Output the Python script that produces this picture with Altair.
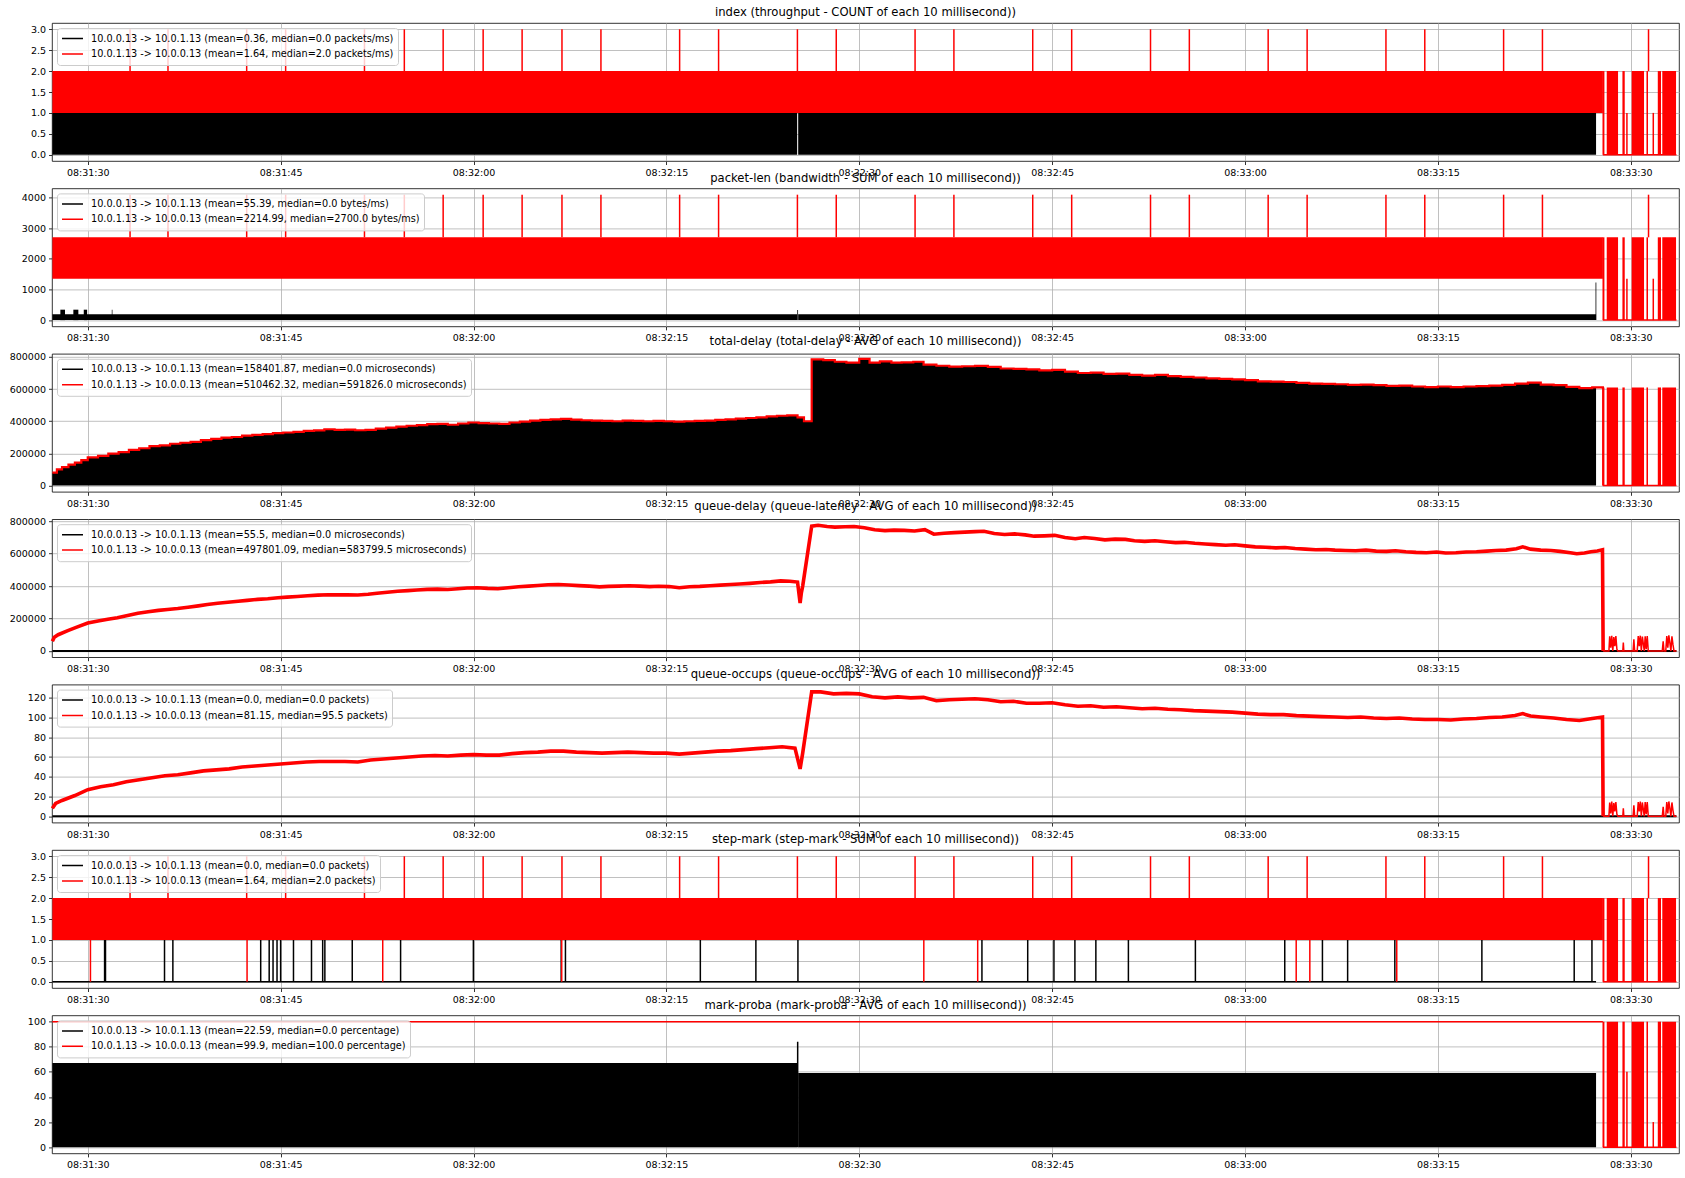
import altair as alt
import pandas as pd

# ---------------- axis / layout constants (seconds after 08:31:00) ----------------
X_DOMAIN = [27.22, 153.75]
X_TICKS = [30, 45, 60, 75, 90, 105, 120, 135, 150]
LABEL_EXPR = ("'08:' + (31 + floor(datum.value / 60)) + ':' + "
              "((datum.value % 60) < 10 ? '0' : '') + (datum.value % 60)")
W, H = 1627, 138
BLACK, RED = "#000000", "#ff0000"
FONT = "DejaVu Sans"

TITLES = [
    "index (throughput - COUNT of each 10 millisecond))",
    "packet-len (bandwidth - SUM of each 10 millisecond))",
    "total-delay (total-delay - AVG of each 10 millisecond))",
    "queue-delay (queue-latency - AVG of each 10 millisecond))",
    "queue-occups (queue-occups - AVG of each 10 millisecond))",
    "step-mark (step-mark - SUM of each 10 millisecond))",
    "mark-proba (mark-proba - AVG of each 10 millisecond))",
]
LEGENDS = [
    ["10.0.0.13 -> 10.0.1.13 (mean=0.36, median=0.0 packets/ms)",
     "10.0.1.13 -> 10.0.0.13 (mean=1.64, median=2.0 packets/ms)"],
    ["10.0.0.13 -> 10.0.1.13 (mean=55.39, median=0.0 bytes/ms)",
     "10.0.1.13 -> 10.0.0.13 (mean=2214.99, median=2700.0 bytes/ms)"],
    ["10.0.0.13 -> 10.0.1.13 (mean=158401.87, median=0.0 microseconds)",
     "10.0.1.13 -> 10.0.0.13 (mean=510462.32, median=591826.0 microseconds)"],
    ["10.0.0.13 -> 10.0.1.13 (mean=55.5, median=0.0 microseconds)",
     "10.0.1.13 -> 10.0.0.13 (mean=497801.09, median=583799.5 microseconds)"],
    ["10.0.0.13 -> 10.0.1.13 (mean=0.0, median=0.0 packets)",
     "10.0.1.13 -> 10.0.0.13 (mean=81.15, median=95.5 packets)"],
    ["10.0.0.13 -> 10.0.1.13 (mean=0.0, median=0.0 packets)",
     "10.0.1.13 -> 10.0.0.13 (mean=1.64, median=2.0 packets)"],
    ["10.0.0.13 -> 10.0.1.13 (mean=22.59, median=0.0 percentage)",
     "10.0.1.13 -> 10.0.0.13 (mean=99.9, median=100.0 percentage)"],
]
Y_DOMAINS = [[-0.15, 3.15], [-205, 4295], [-39000, 819400], [-38700, 812700],
             [-6.4, 133.4], [-0.15, 3.15], [-5, 105]]
Y_TICKS = [[0, 0.5, 1.0, 1.5, 2.0, 2.5, 3.0], [0, 1000, 2000, 3000, 4000],
           [0, 200000, 400000, 600000, 800000], [0, 200000, 400000, 600000, 800000],
           [0, 20, 40, 60, 80, 100, 120], [0, 0.5, 1.0, 1.5, 2.0, 2.5, 3.0],
           [0, 20, 40, 60, 80, 100]]
Y_FORMATS = [".1f", "d", "d", "d", "d", ".1f", "d"]

# ---------------- data ----------------
T_START, BLACK_END, RED_END = 27.25, 147.30, 147.83
GAP_START, GAP_END = 85.17, 85.25
TAIL_END = 153.55

# periodic step-mark spikes (to 3 packets / 4090 bytes)
SPIKE_T = [33.29, 36.24, 42.36, 45.39, 51.52, 54.62, 57.64, 60.75, 63.78, 66.88,
           69.91, 76.03, 79.06, 85.19, 88.21, 94.34, 97.36, 103.49, 106.52, 112.65,
           115.67, 121.80, 124.83, 130.96, 133.98, 140.11, 143.13, 151.38]

# dense red bursts after the flow ends
TAIL_T0 = [147.80, 148.13, 149.35, 150.07, 151.22, 152.10, 152.45]
TAIL_T1 = [147.95, 149.01, 149.53, 151.03, 151.34, 152.35, 153.52]
TAIL_SINGLE_T = [149.70, 151.75]

# step-mark: black marks (0 -> 1) and red drops (1 -> 0)
P6_BLACK_T = [31.31, 31.38, 35.97, 36.62, 43.45, 44.11, 44.41, 44.72, 45.00, 46.00,
              47.40, 48.27, 48.44, 50.57, 54.33, 59.99, 66.82, 67.15, 77.64, 81.96,
              85.23, 99.54, 103.10, 105.14, 106.77, 108.40, 110.93, 116.14, 123.09,
              126.02, 127.98, 131.65, 138.42, 145.60, 146.98]
P6_RED_DROP_T = [30.21, 42.39, 52.94, 66.86, 95.02, 99.21, 123.98, 125.04, 131.80]

# packet-len black spikes
P2_BLACK_T0 = [27.87, 28.88, 29.69, 31.87, 85.18, 147.26]
P2_BLACK_T1 = [28.23, 29.27, 29.95, 31.92, 85.24, 147.32]
P2_BLACK_HI = [340, 340, 340, 340, 330, 1230]

# total-delay (step values, microseconds)
P3_T = [27.25, 27.6, 28.0, 28.5, 29.0, 29.5, 30.0, 30.8, 31.6, 32.4, 33.2, 34.0, 34.8,
        35.6, 36.4, 37.2, 38.0, 38.8, 39.6, 40.4, 41.2, 42.0, 42.8, 43.6, 44.4, 45.2,
        46.0, 46.8, 47.6, 48.4, 49.2, 50.0, 50.8, 51.6, 52.4, 53.2, 54.0, 54.8, 55.6,
        56.4, 57.2, 58.0, 58.8, 59.6, 60.4, 61.2, 62.0, 62.8, 63.6, 64.4, 65.2, 66.0,
        66.8, 67.6, 68.4, 69.2, 70.0, 70.8, 71.6, 72.4, 73.2, 74.0, 74.8, 75.6, 76.4,
        77.2, 78.0, 78.8, 79.6, 80.4, 81.2, 82.0, 82.8, 83.6, 84.4, 85.2, 85.7, 86.3,
        87.2, 88.1, 89.0, 90.0, 90.8, 91.6, 92.5, 93.3, 94.2, 95.0, 96.0, 97.0, 98.0,
        99.0, 100.0, 101.0, 102.0, 103.0, 104.0, 105.0, 106.0, 107.0, 108.0, 109.0,
        110.0, 111.0, 112.0, 113.0, 114.0, 115.0, 116.0, 117.0, 118.0, 119.0, 120.0,
        121.0, 122.0, 123.0, 124.0, 125.0, 126.0, 127.0, 128.0, 129.0, 130.0, 131.0,
        132.0, 133.0, 134.0, 135.0, 136.0, 137.0, 138.0, 139.0, 140.0, 141.0, 142.0,
        143.0, 144.0, 145.0, 146.0, 147.0, 147.83]
P3_V = [80000, 100000, 115000, 130000, 143000, 158000, 175000, 185000, 198000, 208000,
        222000, 232000, 245000, 250000, 260000, 266000, 272000, 282000, 290000, 298000,
        302000, 310000, 315000, 320000, 326000, 330000, 334000, 340000, 343000, 350000,
        346000, 348000, 344000, 346000, 354000, 360000, 366000, 372000, 376000, 382000,
        384000, 378000, 386000, 392000, 388000, 386000, 384000, 392000, 398000, 404000,
        408000, 412000, 414000, 410000, 406000, 404000, 402000, 400000, 404000, 402000,
        400000, 402000, 400000, 398000, 400000, 402000, 404000, 408000, 412000, 416000,
        420000, 424000, 430000, 434000, 436000, 424000, 400000, 785000, 780000, 770000,
        765000, 788000, 765000, 772000, 765000, 766000, 770000, 752000, 745000, 740000,
        742000, 744000, 738000, 728000, 726000, 722000, 716000, 720000, 708000, 700000,
        702000, 694000, 696000, 688000, 684000, 688000, 680000, 676000, 672000, 666000,
        664000, 660000, 656000, 648000, 646000, 644000, 638000, 634000, 632000, 630000,
        626000, 628000, 624000, 620000, 622000, 616000, 612000, 616000, 612000, 616000,
        618000, 622000, 626000, 634000, 640000, 628000, 624000, 614000, 606000, 610000,
        600000]

# queue-delay (microseconds)
P4_T = [27.25, 27.4, 27.7, 28.45, 29.2, 30.0, 30.8, 31.56, 32.3, 33.1, 33.9, 34.7, 35.5,
        36.2, 37.0, 37.8, 38.6, 39.3, 40.1, 40.9, 41.7, 42.4, 43.2, 44.0, 44.8, 45.5,
        46.3, 47.1, 47.9, 48.7, 49.4, 50.2, 51.0, 51.8, 52.5, 53.3, 54.1, 54.9, 55.6,
        56.4, 57.2, 58.0, 58.8, 59.5, 60.3, 61.1, 61.9, 62.7, 63.5, 64.3, 65.0, 65.8,
        66.6, 67.4, 68.2, 69.0, 69.8, 70.5, 71.3, 72.1, 72.9, 73.7, 74.4, 75.2, 76.0,
        76.8, 77.6, 78.4, 79.2, 80.0, 80.7, 81.5, 82.3, 83.1, 83.9, 84.6, 85.2, 85.4,
        85.5, 85.6, 86.3, 86.8, 87.5, 88.1, 88.9, 89.6, 90.4, 91.2, 92.0, 92.7, 93.5,
        94.3, 95.1, 95.8, 96.6, 97.4, 98.2, 99.0, 99.7, 100.5, 101.3, 102.1, 102.9,
        103.6, 104.4, 105.2, 106.0, 106.8, 107.5, 108.3, 109.1, 109.9, 110.7, 111.4,
        112.2, 113.0, 113.8, 114.6, 115.3, 116.1, 116.9, 117.7, 118.5, 119.2, 120.0,
        120.8, 121.6, 122.4, 123.1, 123.9, 124.7, 125.5, 126.3, 127.0, 127.8, 128.6,
        129.4, 130.2, 131.0, 131.7, 132.5, 133.3, 134.1, 134.9, 135.6, 136.4, 137.2,
        138.0, 138.8, 139.5, 140.3, 141.1, 141.6, 142.2, 143.0, 143.8, 144.5, 145.3,
        145.8, 146.4, 146.9, 147.4, 147.8, 147.85]
P4_V = [60000, 85000, 100000, 125000, 148000, 172000, 185000, 195000, 205000, 218000,
        232000, 242000, 250000, 256000, 262000, 270000, 278000, 286000, 294000, 300000,
        306000, 312000, 318000, 322000, 328000, 332000, 336000, 340000, 344000, 347000,
        346000, 346000, 345000, 350000, 356000, 362000, 368000, 372000, 376000, 380000,
        381000, 379000, 384000, 388000, 390000, 386000, 384000, 390000, 396000, 400000,
        404000, 408000, 410000, 407000, 403000, 400000, 395000, 398000, 400000, 402000,
        400000, 397000, 399000, 397000, 390000, 396000, 398000, 402000, 406000, 410000,
        413000, 417000, 422000, 426000, 432000, 430000, 425000, 295000, 360000, 400000,
        770000, 775000, 768000, 764000, 766000, 768000, 760000, 748000, 742000, 745000,
        744000, 740000, 748000, 720000, 726000, 730000, 733000, 736000, 738000, 725000,
        718000, 722000, 716000, 708000, 710000, 713000, 700000, 692000, 700000, 694000,
        685000, 690000, 688000, 680000, 676000, 680000, 674000, 668000, 670000, 664000,
        660000, 656000, 652000, 655000, 648000, 642000, 640000, 636000, 638000, 632000,
        628000, 624000, 626000, 622000, 620000, 618000, 622000, 616000, 614000, 618000,
        612000, 608000, 606000, 610000, 604000, 606000, 610000, 612000, 616000, 620000,
        622000, 630000, 642000, 628000, 622000, 620000, 614000, 606000, 600000, 604000,
        612000, 616000, 624000, 0]
P4_TAIL_T = [147.85, 148.30, 148.36, 148.44, 148.52, 148.60, 148.68, 148.76, 148.84,
             148.92, 149.00, 149.38, 149.42, 149.46, 150.18, 150.24, 150.30, 150.50,
             150.58, 150.66, 150.74, 150.82, 150.90, 151.05, 151.12, 151.20, 151.28,
             151.36, 151.50, 152.45, 152.52, 152.58, 152.72, 152.80, 152.88, 152.96,
             153.04, 153.12, 153.20, 153.28, 153.36, 153.55]
P4_TAIL_V = [0, 0, 90000, 20000, 94000, 0, 86000, 30000, 92000, 10000, 0, 0, 52000, 0,
             0, 72000, 0, 0, 92000, 30000, 94000, 0, 88000, 0, 90000, 10000, 92000, 0,
             0, 0, 60000, 0, 0, 92000, 20000, 96000, 50000, 0, 90000, 40000, 0, 0]

# queue-occupancy (packets)
P5_T = [27.25, 27.5, 28.0, 29.0, 30.0, 31.0, 32.0, 33.0, 34.0, 35.0, 36.0, 37.0, 38.0,
        39.0, 40.0, 41.0, 42.0, 43.0, 44.0, 45.0, 46.0, 47.0, 48.0, 49.0, 50.0, 51.0,
        52.0, 53.0, 54.0, 55.0, 56.0, 57.0, 58.0, 59.0, 60.0, 61.0, 62.0, 63.0, 64.0,
        65.0, 66.0, 67.0, 68.0, 69.0, 70.0, 71.0, 72.0, 73.0, 74.0, 75.0, 76.0, 77.0,
        78.0, 79.0, 80.0, 81.0, 82.0, 83.0, 84.0, 85.0, 85.4, 85.6, 86.3, 87.0, 88.0,
        89.0, 90.0, 91.0, 92.0, 93.0, 94.0, 95.0, 96.0, 97.0, 98.0, 99.0, 100.0, 101.0,
        102.0, 103.0, 104.0, 105.0, 106.0, 107.0, 108.0, 109.0, 110.0, 111.0, 112.0,
        113.0, 114.0, 115.0, 116.0, 117.0, 118.0, 119.0, 120.0, 121.0, 122.0, 123.0,
        124.0, 125.0, 126.0, 127.0, 128.0, 129.0, 130.0, 131.0, 132.0, 133.0, 134.0,
        135.0, 136.0, 137.0, 138.0, 139.0, 140.0, 141.0, 141.6, 142.2, 143.0, 144.0,
        145.0, 146.0, 147.0, 147.8, 147.85]
P5_V = [8, 13, 16, 21, 27, 30, 32, 35, 37, 39, 41, 42, 44, 46, 47, 48, 50, 51, 52, 53,
        54, 55, 55.5, 55.5, 55.5, 55, 57, 58, 59, 60, 61, 61.5, 61, 62, 62.5, 62, 62,
        63.5, 64.5, 65, 66, 66, 65, 64.5, 64, 64.5, 65, 64.5, 64, 64, 63, 64, 65, 66,
        66.5, 67.5, 68.5, 69.5, 70.5, 69, 48, 64, 126, 126, 124, 124.5, 124, 121, 120,
        121, 120, 120.5, 117, 118, 118.5, 119, 118, 116, 116.5, 114.5, 114.5, 115, 113,
        111.5, 112, 110.5, 111, 110, 109, 109.5, 108.5, 108, 107, 106.5, 106, 105.5,
        104.5, 103.5, 103, 103, 102, 101.5, 101, 100.5, 100, 100.5, 99.5, 99, 99.5,
        98.5, 98, 98, 97.5, 98.5, 99, 100, 100.5, 102, 104, 101.5, 100.5, 99.5, 98, 97,
        99, 100.5, 0]
P5_TAIL_V = [0, 0, 14, 3, 15, 0, 13.5, 5, 14.5, 2, 0, 0, 8, 0, 0, 11, 0, 0, 14.5, 5,
             15, 0, 14, 0, 14.5, 2, 14.5, 0, 0, 0, 9.5, 0, 0, 14.5, 3, 15, 8, 0, 14, 6,
             0, 0]

# mark-proba (percentage)
P7_BLACK_T0 = [T_START, GAP_END]
P7_BLACK_T1 = [GAP_START, BLACK_END]
P7_BLACK_HI = [67, 59]
P7_BLACK_SPIKE = 84
P7_RED_LEVEL = 100
P7_TAIL_SINGLE_V = [60, 20]


# ---------------- helpers ----------------
def xenc(field):
    return alt.X(f"{field}:Q",
                 scale=alt.Scale(domain=X_DOMAIN, nice=False, zero=False),
                 axis=alt.Axis(values=X_TICKS, labelExpr=LABEL_EXPR, title=None))


def yenc(field, i):
    return alt.Y(f"{field}:Q",
                 scale=alt.Scale(domain=Y_DOMAINS[i], nice=False, zero=False),
                 axis=alt.Axis(values=Y_TICKS[i], format=Y_FORMATS[i], title=None))


def cenc(i):
    return alt.Color("series:N",
                     scale=alt.Scale(domain=LEGENDS[i], range=[BLACK, RED]),
                     legend=alt.Legend(title=None))


def rects(i, t0, t1, lo, hi, color):
    df = pd.DataFrame({"t0": t0, "t1": t1, "lo": lo, "hi": hi})
    return alt.Chart(df).mark_rect(color=color).encode(
        x=xenc("t0"), x2=alt.X2("t1"), y=yenc("lo", i), y2=alt.Y2("hi"))


def rules(i, t, lo, hi, series_idx, width=1.5):
    n = len(t)
    df = pd.DataFrame({"t": t, "lo": lo if isinstance(lo, list) else [lo] * n,
                       "hi": hi if isinstance(hi, list) else [hi] * n,
                       "series": [LEGENDS[i][series_idx]] * n})
    return alt.Chart(df).mark_rule(strokeWidth=width).encode(
        x=xenc("t"), y=yenc("lo", i), y2=alt.Y2("hi"), color=cenc(i))


def hline(i, t0, t1, v, series_idx, width=1.5):
    df = pd.DataFrame({"t0": [t0], "t1": [t1], "v": [v],
                       "series": [LEGENDS[i][series_idx]]})
    return alt.Chart(df).mark_rule(strokeWidth=width).encode(
        x=xenc("t0"), x2=alt.X2("t1"), y=yenc("v", i), color=cenc(i))


def curve(i, t, v, series_idx, width, interp="linear"):
    df = pd.DataFrame({"t": t, "v": v, "series": [LEGENDS[i][series_idx]] * len(t)})
    return alt.Chart(df).mark_line(strokeWidth=width, interpolate=interp).encode(
        x=xenc("t"), y=yenc("v", i), color=cenc(i))


def tail(i, level):
    n = len(TAIL_T0)
    return rects(i, TAIL_T0, TAIL_T1, [0] * n, [level] * n, RED)


def finish(layers, i):
    return alt.layer(*layers).properties(width=W, height=H, title=TITLES[i])


# ---------------- panels ----------------
panels = []

# 1: index
i = 0
panels.append(finish([
    rules(i, SPIKE_T, 2, 3, 1),
    rects(i, [T_START, GAP_END], [GAP_START, BLACK_END], [0, 0], [1, 1], BLACK),
    rects(i, [T_START], [RED_END], [1], [2], RED),
    tail(i, 2),
    rules(i, TAIL_SINGLE_T, 0, 1, 1),
    hline(i, RED_END, TAIL_END, 0, 1),
], i))

# 2: packet-len
i = 1
panels.append(finish([
    rules(i, SPIKE_T, 2700, 4090, 1),
    rects(i, [T_START, GAP_END], [GAP_START, BLACK_END], [0, 0], [190, 190], BLACK),
    rects(i, P2_BLACK_T0, P2_BLACK_T1, [0] * len(P2_BLACK_T0), P2_BLACK_HI, BLACK),
    rects(i, [T_START], [RED_END], [1350], [2700], RED),
    tail(i, 2700),
    rules(i, TAIL_SINGLE_T, 0, 1350, 1),
    hline(i, RED_END, TAIL_END, 0, 1),
], i))

# 3: total-delay
i = 2
p3_black = pd.DataFrame({"t": [t for t in P3_T if t < BLACK_END] + [BLACK_END],
                         "v": [v for t, v in zip(P3_T, P3_V) if t < BLACK_END] + [612000]})
p3_black["zero"] = 0
panels.append(finish([
    rules(i, [RED_END], 0, 600000, 1),
    alt.Chart(p3_black).mark_area(color=BLACK, interpolate="step-after").encode(
        x=xenc("t"), y=yenc("v", i), y2=alt.Y2("zero")),
    curve(i, P3_T, P3_V, 1, 2.2, "step-after"),
    tail(i, 610000),
    hline(i, RED_END, TAIL_END, 0, 1),
], i))

# 4: queue-delay
i = 3
panels.append(finish([
    hline(i, T_START, TAIL_END, 0, 0, 2),
    curve(i, P4_T, P4_V, 1, 3.6),
    curve(i, P4_TAIL_T, P4_TAIL_V, 1, 1.5),
], i))

# 5: queue-occups
i = 4
panels.append(finish([
    hline(i, T_START, TAIL_END, 0, 0, 2),
    curve(i, P5_T, P5_V, 1, 3.6),
    curve(i, P4_TAIL_T, P5_TAIL_V, 1, 1.5),
], i))

# 6: step-mark
i = 5
panels.append(finish([
    hline(i, T_START, BLACK_END, 0, 0, 1.5),
    rules(i, P6_BLACK_T, 0, 1, 0),
    rects(i, [T_START], [RED_END], [1], [2], RED),
    rules(i, SPIKE_T, 2, 3, 1),
    rules(i, P6_RED_DROP_T, 0, 1, 1),
    tail(i, 2),
    hline(i, RED_END, TAIL_END, 0, 1),
], i))

# 7: mark-proba
i = 6
panels.append(finish([
    hline(i, T_START, RED_END, P7_RED_LEVEL, 1, 1.5),
    rects(i, P7_BLACK_T0, P7_BLACK_T1, [0, 0], P7_BLACK_HI, BLACK),
    rules(i, [85.21], 0, P7_BLACK_SPIKE, 0),
    tail(i, P7_RED_LEVEL),
    rules(i, TAIL_SINGLE_T, 0, P7_TAIL_SINGLE_V, 1),
    hline(i, RED_END, TAIL_END, 0, 1),
], i))

chart = alt.vconcat(*panels, spacing=27.4, bounds="flush").resolve_scale(
    color="independent", x="independent", y="independent"
).properties(
    padding={"left": 8, "top": 7, "right": 5, "bottom": 5},
    background="white",
).configure_view(
    stroke="black", strokeWidth=0.8
).configure_axis(
    grid=True, gridColor="#b0b0b0", gridWidth=0.8, domain=False,
    tickColor="black", tickSize=3.5, tickWidth=0.8,
    labelFont=FONT, labelFontSize=9.5, labelColor="black", labelPadding=3
).configure_title(
    font=FONT, fontSize=11.6, fontWeight="normal", anchor="middle", offset=4,
    color="black"
).configure_legend(
    orient="top-left", offset=5, padding=4, fillColor="rgba(255,255,255,0.8)",
    strokeColor="#cccccc", cornerRadius=3, labelFont=FONT, labelFontSize=9.7,
    labelColor="black", symbolType="stroke", symbolSize=440, symbolStrokeWidth=1.5,
    clipHeight=13, rowPadding=2.4, labelOffset=7, labelLimit=800
)

chart.save("out.html", embed_options={"renderer": "svg", "actions": False})
